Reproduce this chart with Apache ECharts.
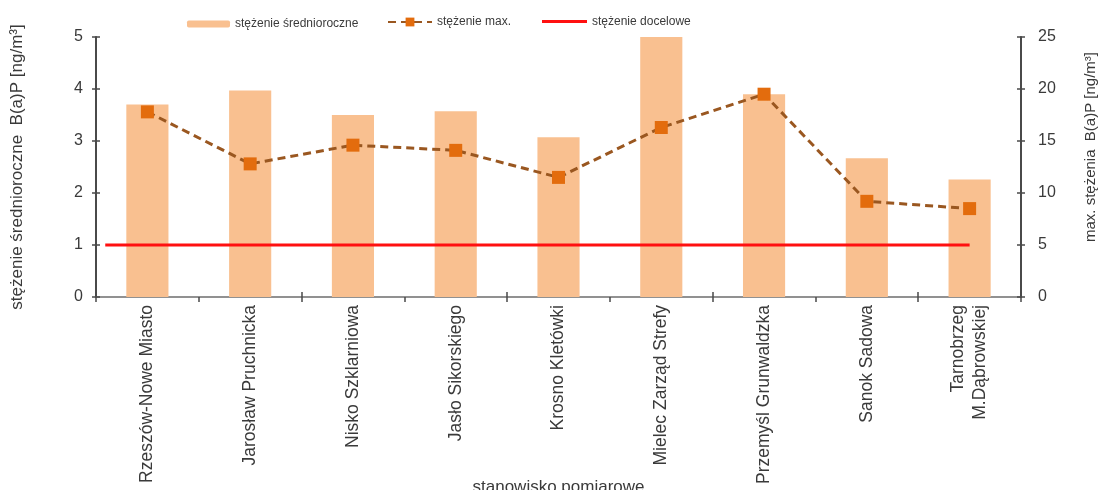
<!DOCTYPE html>
<html>
<head>
<meta charset="utf-8">
<title>B(a)P – stanowiska pomiarowe</title>
<script src="https://cdn.jsdelivr.net/npm/echarts@6/dist/echarts.min.js"></script>
<style>
  html, body { margin: 0; padding: 0; background: #ffffff; overflow: hidden; }
  #chart { width: 1099px; height: 490px; }
</style>
</head>
<body>
<div id="chart"></div>
<script>
// Measuring stations (category axis)
const CATEGORIES = [
  'Rzeszów-Nowe Miasto',
  'Jarosław Pruchnicka',
  'Nisko Szklarniowa',
  'Jasło Sikorskiego',
  'Krosno Kletówki',
  'Mielec Zarząd Strefy',
  'Przemyśl Grunwaldzka',
  'Sanok Sadowa',
  'Tarnobrzeg\nM.Dąbrowskiej'
];

// Annual mean B(a)P concentration [ng/m3] (left axis)
const ANNUAL_MEAN = [3.7, 3.97, 3.5, 3.57, 3.07, 5.0, 3.9, 2.67, 2.26];

// Maximum B(a)P concentration [ng/m3] (right axis)
const MAX_VALUES = [17.8, 12.8, 14.6, 14.1, 11.5, 16.3, 19.5, 9.2, 8.5];

// Target value [ng/m3]
const TARGET = 1;

// Axis tick labels
const LEFT_TICKS = [0, 1, 2, 3, 4, 5];
const RIGHT_TICKS = [0, 5, 10, 15, 20, 25];

const FONT = "'Liberation Sans', Arial, sans-serif";
const AXIS_COLOR = '#4a4a4a';
const TEXT_COLOR = '#3a3a3a';

const leftStep = LEFT_TICKS[1] - LEFT_TICKS[0];
const rightStep = RIGHT_TICKS[1] - RIGHT_TICKS[0];

// Target line spans from the left edge of the first station to the centre of the last one
const targetSpan = [[0.09, TARGET], [CATEGORIES.length - 0.5, TARGET]];

const chart = echarts.init(document.getElementById('chart'));

function valueAxis(ticks, step, pos, extra) {
  return Object.assign({
    type: 'value',
    position: pos,
    min: ticks[0],
    max: ticks[ticks.length - 1],
    interval: step,
    splitLine: { show: false },
    axisLine: { show: true, lineStyle: { color: AXIS_COLOR, width: 2 } },
    axisTick: { show: true, length: 4, lineStyle: { color: AXIS_COLOR, width: 1.5 } },
    axisLabel: { color: TEXT_COLOR, fontSize: 16, fontFamily: FONT }
  }, extra);
}

const option = {
  backgroundColor: '#ffffff',
  animation: false,
  grid: {
    left: 96, right: 78, top: 37, bottom: 193,
    containLabel: false,
    outerBoundsMode: 'none'
  },
  legend: [
    {
      data: ['stężenie średnioroczne'], left: 187, top: 18, padding: 0,
      itemWidth: 43, itemHeight: 7,
      textStyle: { color: TEXT_COLOR, fontSize: 12, fontFamily: FONT }
    },
    {
      data: ['stężenie max.'], left: 387, top: 16, padding: 0,
      itemWidth: 44, itemHeight: 11,
      textStyle: { color: TEXT_COLOR, fontSize: 12, fontFamily: FONT }
    },
    {
      data: [{ name: 'stężenie docelowe', icon: 'rect' }], left: 542, top: 15.5, padding: 0,
      itemWidth: 45, itemHeight: 3,
      textStyle: { color: TEXT_COLOR, fontSize: 12, fontFamily: FONT }
    }
  ],
  xAxis: [
    {
      type: 'category',
      data: CATEGORIES,
      name: 'stanowisko pomiarowe',
      nameLocation: 'middle',
      nameGap: 182,
      nameMoveOverlap: false,
      nameTextStyle: { color: TEXT_COLOR, fontSize: 17, fontFamily: FONT },
      axisLine: { show: true, lineStyle: { color: '#6e6e6e', width: 1.5 } },
      axisTick: { show: true, length: 5, lineStyle: { color: AXIS_COLOR, width: 1.5 } },
      axisLabel: {
        rotate: 90, margin: 8, interval: 0,
        color: TEXT_COLOR, fontSize: 17.5, lineHeight: 22, fontFamily: FONT
      }
    },
    {
      // inner half of the crossing category ticks
      type: 'category',
      data: CATEGORIES,
      position: 'bottom',
      axisLine: { show: false },
      axisTick: { show: true, inside: true, length: 5, lineStyle: { color: AXIS_COLOR, width: 1.5 } },
      axisLabel: { show: false }
    },
    {
      // hidden linear scale for the target line
      type: 'value',
      min: 0,
      max: CATEGORIES.length,
      show: false
    }
  ],
  yAxis: [
    valueAxis(LEFT_TICKS, leftStep, 'left', {
      name: 'stężenie średnioroczne  B(a)P [ng/m³]',
      nameLocation: 'middle',
      nameGap: 70,
      nameRotate: 90,
      nameTextStyle: { color: TEXT_COLOR, fontSize: 17, fontFamily: FONT },
      axisLabel: { color: TEXT_COLOR, fontSize: 16, fontFamily: FONT, margin: 13 }
    }),
    valueAxis(RIGHT_TICKS, rightStep, 'right', {
      name: 'max. stężenia  B(a)P [ng/m³]',
      nameLocation: 'middle',
      nameGap: 62,
      nameRotate: 90,
      nameTextStyle: { color: TEXT_COLOR, fontSize: 15, fontFamily: FONT, padding: [0, 0, 0, 40] },
      axisLabel: { color: TEXT_COLOR, fontSize: 16, fontFamily: FONT, margin: 17 }
    }),
    valueAxis(LEFT_TICKS, leftStep, 'left', {
      axisLine: { show: false },
      axisLabel: { show: false },
      axisTick: { show: true, inside: true, length: 4, lineStyle: { color: AXIS_COLOR, width: 1.5 } }
    }),
    valueAxis(RIGHT_TICKS, rightStep, 'right', {
      axisLine: { show: false },
      axisLabel: { show: false },
      axisTick: { show: true, inside: true, length: 4, lineStyle: { color: AXIS_COLOR, width: 1.5 } }
    })
  ],
  series: [
    {
      name: 'stężenie średnioroczne',
      type: 'bar',
      xAxisIndex: 0,
      yAxisIndex: 0,
      data: ANNUAL_MEAN,
      barWidth: '41%',
      itemStyle: { color: '#f9c090' },
      z: 1
    },
    {
      name: 'stężenie docelowe',
      type: 'line',
      xAxisIndex: 2,
      yAxisIndex: 0,
      data: targetSpan,
      symbol: 'none',
      lineStyle: { color: '#ff1010', width: 3 },
      itemStyle: { color: '#ff1010' },
      z: 3
    },
    {
      name: 'stężenie max.',
      type: 'line',
      xAxisIndex: 0,
      yAxisIndex: 1,
      data: MAX_VALUES,
      symbol: 'rect',
      symbolSize: 13,
      lineStyle: { color: '#9a5720', width: 3, type: [8, 5] },
      itemStyle: { color: '#e36c0d', borderWidth: 0 },
      z: 4
    }
  ]
};

chart.setOption(option);
</script>
</body>
</html>
